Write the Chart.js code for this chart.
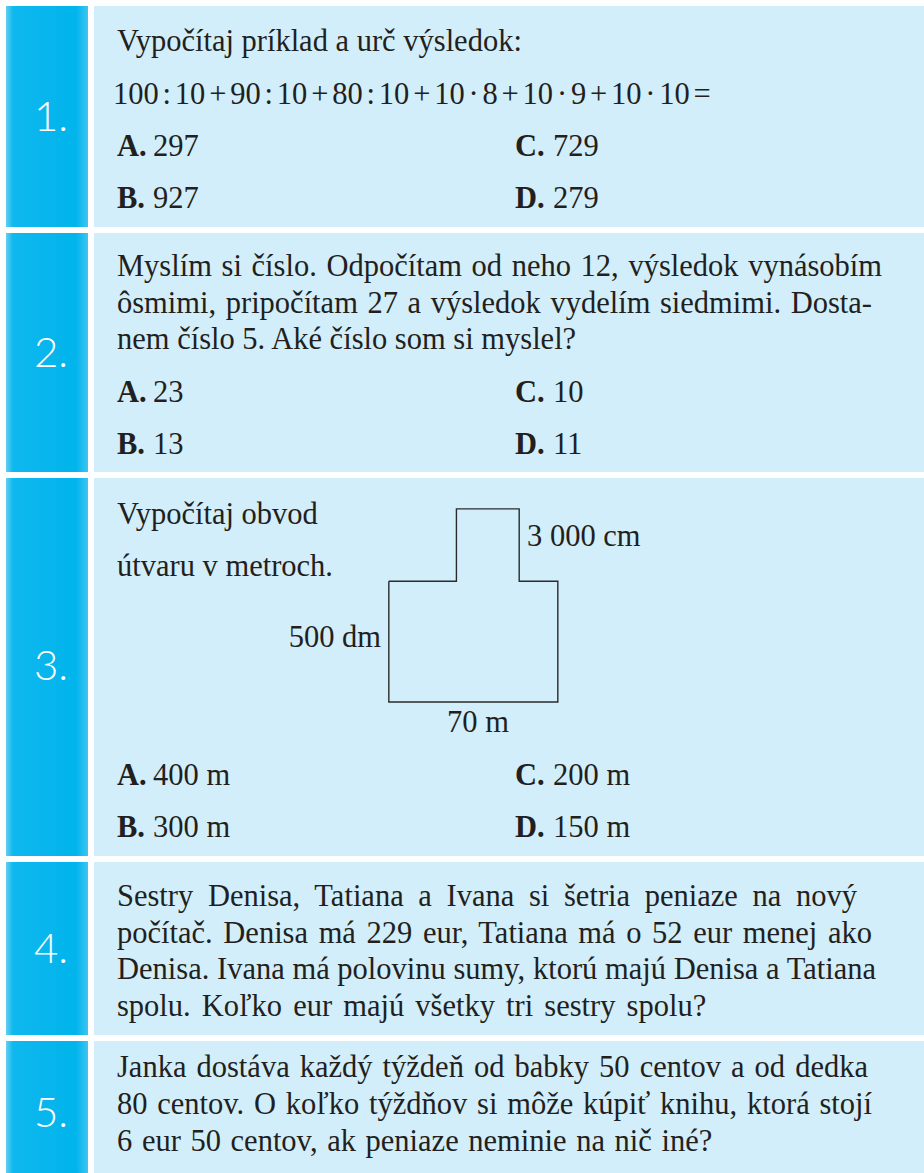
<!DOCTYPE html>
<html lang="sk">
<head>
<meta charset="utf-8">
<title>Úlohy</title>
<script src="https://cdn.jsdelivr.net/npm/chart.js@4.4.1/dist/chart.umd.min.js"></script>
<style>
  html, body { margin: 0; padding: 0; background: #fff; }
  #page { position: relative; width: 924px; height: 1173px; overflow: hidden; }
  .num { position: absolute; left: 6px; width: 82px;
    background: linear-gradient(to right, #62cff4 0px, #0fb8ee 7px, #00b4ec 70px, #3fc5f1 82px); }
  .panel { position: absolute; left: 94px; right: 0; background: #d2eefa; }
  .t { position: absolute; white-space: nowrap; color: #231f20;
    font-family: "Liberation Serif", "DejaVu Serif", serif; }
  .n { position: absolute; color: #fff; font-family: Lato, "Open Sans", sans-serif;
    font-weight: 300; white-space: nowrap; }
  #shape { position: absolute; }
</style>
</head>
<body>
<div id="page"></div>
<canvas id="shape"></canvas>
<script>
// row boxes (top, bottom) and question numbers
const rowTops = [6, 233, 478, 862, 1041];
const rowBottoms = [227, 472, 856, 1035, 1173];
const rowNumbers = ["1.", "2.", "3.", "4.", "5."];
const numberCenters = [116, 352, 665, 948, 1112];

// shape of task 3, in metres (70 m x 50 m base, 30 m high top part)
const shapeX = [0, 28, 28, 54, 54, 70, 70, 0, 0];
const shapeY = [50, 50, 80, 80, 50, 50, 0, 0, 50];

const F = 30.5;
const page = document.getElementById("page");

// text lines: [text, x, baseline, mode, width or word spacing]
const lines = [
  ["Vypočítaj príklad a urč výsledok:", 117, 52],
  ["A.", 117, 157, "b"], ["297", 153, 157],
  ["C.", 515, 157, "b"], ["729", 553, 157],
  ["B.", 117, 209, "b"], ["927", 153, 209],
  ["D.", 515, 209, "b"], ["279", 553, 209],

  ["Myslím si číslo. Odpočítam od neho 12, výsledok vynásobím", 117, 277, "j", 765],
  ["ôsmimi, pripočítam 27 a výsledok vydelím siedmimi. Dosta-", 117, 313.5, "j", 755],
  ["nem číslo 5. Aké číslo som si myslel?", 117, 350],
  ["A.", 117, 403, "b"], ["23", 153, 403],
  ["C.", 515, 403, "b"], ["10", 553, 403],
  ["B.", 117, 455, "b"], ["13", 153, 455],
  ["D.", 515, 455, "b"], ["11", 553, 455],

  ["Vypočítaj obvod", 117, 525],
  ["útvaru v metroch.", 117, 577],
  ["3 000 cm", 527, 547],
  ["500 dm", 381, 648, "r"],
  ["70 m", 478, 733, "c"],
  ["A.", 117, 786, "b"], ["400 m", 153, 786],
  ["C.", 515, 786, "b"], ["200 m", 553, 786],
  ["B.", 117, 838, "b"], ["300 m", 153, 838],
  ["D.", 515, 838, "b"], ["150 m", 553, 838],

  ["Sestry Denisa, Tatiana a Ivana si šetria peniaze na nový", 117, 907, "j", 740],
  ["počítač. Denisa má 229 eur, Tatiana má o 52 eur menej ako", 117, 944, "j", 755],
  ["Denisa. Ivana má polovinu sumy, ktorú majú Denisa a Tatiana", 117, 980, "j", 759],
  ["spolu. Koľko eur majú všetky tri sestry spolu?", 117, 1017, "w", 3.5],

  ["Janka dostáva každý týždeň od babky 50 centov a od dedka", 117, 1078, "j", 751],
  ["80 centov. O koľko týždňov si môže kúpiť knihu, ktorá stojí", 117, 1115, "j", 755],
  ["6 eur 50 centov, ak peniaze neminie na nič iné?", 117, 1152, "w", 2]
];

rowTops.forEach((top, i) => {
  const h = rowBottoms[i] - top;
  const a = document.createElement("div");
  a.className = "num";
  a.style.top = top + "px";
  a.style.height = h + "px";
  page.appendChild(a);
  const b = document.createElement("div");
  b.className = "panel";
  b.style.top = top + "px";
  b.style.height = h + "px";
  page.appendChild(b);
  const n = document.createElement("div");
  n.className = "n";
  n.textContent = rowNumbers[i];
  n.style.fontSize = "42px";
  n.style.lineHeight = "42px";
  n.style.left = "51px";
  n.style.transform = "translateX(-50%)";
  n.style.top = (numberCenters[i] - 0.527 * 42) + "px";
  page.appendChild(n);
});

lines.forEach(([txt, x, bl, mode, w]) => {
  const d = document.createElement("div");
  d.className = "t";
  d.textContent = txt;
  d.style.fontSize = F + "px";
  d.style.lineHeight = F + "px";
  d.style.left = x + "px";
  d.style.top = (bl - 0.8375 * F) + "px";
  if (mode === "b") d.style.fontWeight = "bold";
  if (mode === "r") d.style.transform = "translateX(-100%)";
  if (mode === "c") d.style.transform = "translateX(-50%)";
  if (mode === "w") d.style.wordSpacing = w + "px";
  if (mode === "j") {
    d.style.width = w + "px";
    d.style.whiteSpace = "normal";
    d.style.textAlign = "justify";
    d.style.textAlignLast = "justify";
  }
  page.appendChild(d);
});

// equation line
const eq = document.createElement("div");
eq.className = "t";
eq.textContent = "100 : 10 + 90 : 10 + 80 : 10 + 10 · 8 + 10 · 9 + 10 · 10 =";
eq.style.fontSize = F + "px";
eq.style.lineHeight = F + "px";
eq.style.wordSpacing = "-3.8px";
eq.style.left = "113px";
eq.style.top = (105 - 0.8375 * F) + "px";
page.appendChild(eq);

// the figure, drawn as a closed scatter line
const k = 169 / 70; // px per metre
const canvas = document.getElementById("shape");
canvas.width = 179;
canvas.height = 203;
canvas.style.left = (389.3 - 2 * k) + "px";
canvas.style.top = (509 - 2 * k) + "px";
page.appendChild(canvas);

new Chart(canvas.getContext("2d"), {
  type: "scatter",
  data: {
    datasets: [{
      data: shapeX.map((x, i) => ({ x: x, y: shapeY[i] })),
      showLine: true,
      borderColor: "#2b2b2b",
      borderWidth: 1.4,
      pointRadius: 0,
      fill: false,
      tension: 0,
      borderJoinStyle: "miter"
    }]
  },
  options: {
    responsive: false,
    animation: false,
    layout: { padding: 0 },
    plugins: { legend: { display: false }, tooltip: { enabled: false } },
    scales: {
      x: { type: "linear", display: false, min: -2, max: -2 + 179 / k },
      y: { type: "linear", display: false, max: 82, min: 82 - 203 / k }
    }
  }
});
</script>
</body>
</html>
